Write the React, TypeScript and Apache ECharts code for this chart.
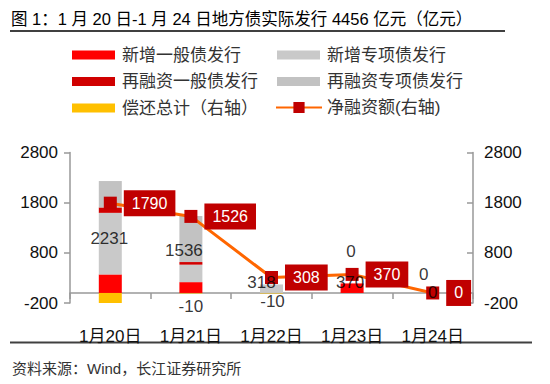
import React, { useEffect, useRef } from "react";
import * as echarts from "echarts";

const categories = ["1月20日", "1月21日", "1月22日", "1月23日", "1月24日"];
const newGeneral = [370, 216, 0, 190, 0];
const newSpecial = [1227, 348, 170, 0, 0];
const refiGeneral = [108, 52, 0, 0, 0];
const refiSpecial = [526, 920, 0, 0, 0];
const repayment = [-441, -10, -10, 0, 0];
const netFinancing = [1790, 1526, 308, 370, 0];
const totalIssuance = [2231, 1536, 318, 370, 0];
const yTicks = [-200, 800, 1800, 2800];

// label placement tweaks (style only)
const totalLabelShift = [[-1, 1], [-7, -4], [-10, -2], [-2, -1], [0, 0]];
const repayLabelShift = [[0, 0], [0, 13], [1, 8.5], [-1, -41], [-9, -18]];
const repayLabelVisible = [false, true, true, true, true];

const FONT = "'Liberation Sans', Arial, 'Noto Sans CJK SC', sans-serif";
const TITLE = "图 1：1 月 20 日-1 月 24 日地方债实际发行 4456 亿元（亿元）";
const SOURCE = "资料来源：Wind，长江证券研究所";

export default function App() {
  const ref = useRef<HTMLDivElement>(null);
  useEffect(() => {
    if (!ref.current) return;
    const chart = echarts.init(ref.current, null, { renderer: "svg" });
    const axisColor = "#999";
    const legendText = { fontSize: 17, lineHeight: 18, color: "#333", fontFamily: FONT, padding: [0, 0, 0, 2] };
    const yAxisBase = (pos: "left" | "right") => ({
      type: "value",
      position: pos,
      min: -200,
      max: 2800,
      interval: 1000,
      splitLine: { show: false },
      axisLine: { show: true, onZero: false, lineStyle: { color: axisColor, width: 1.5 } },
      axisTick: {
        show: true,
        length: 6,
        inside: pos === "right",
        customValues: yTicks,
        lineStyle: { color: axisColor, width: 1.5 },
      },
      axisLabel: {
        customValues: yTicks,
        fontSize: 17,
        color: "#111",
        fontFamily: FONT,
        margin: pos === "left" ? 12 : 11,
        formatter: (v: number) => String(v),
      },
    });
    const option: any = {
      animation: false,
      textStyle: { fontFamily: FONT },
      grid: { left: 70, right: 77, top: 152.5, bottom: 81 },
      legend: [
        {
          orient: "vertical",
          left: 72,
          top: 46,
          padding: 0,
          itemWidth: 43,
          itemHeight: 9,
          itemGap: 8.5,
          textStyle: legendText,
          selectedMode: false,
          data: [
            { name: "新增一般债发行", icon: "rect" },
            { name: "再融资一般债发行", icon: "rect" },
            { name: "偿还总计（右轴）", icon: "rect" },
          ],
        },
        {
          orient: "vertical",
          left: 277,
          top: 46,
          padding: 0,
          itemWidth: 43,
          itemHeight: 9,
          itemGap: 8.5,
          textStyle: legendText,
          selectedMode: false,
          data: [
            { name: "新增专项债发行", icon: "rect" },
            { name: "再融资专项债发行", icon: "rect" },
          ],
        },
        {
          orient: "vertical",
          left: 275,
          top: 98.5,
          padding: 0,
          itemWidth: 46,
          itemHeight: 14,
          textStyle: { ...legendText, padding: [0, 0, 0, 0] },
          selectedMode: false,
          data: ["净融资额(右轴)"],
        },
      ],
      xAxis: {
        type: "category",
        data: categories,
        axisLine: { onZero: true, lineStyle: { color: axisColor, width: 1.5 } },
        axisTick: { show: true, length: 6, lineStyle: { color: axisColor, width: 1.5 } },
        axisLabel: { interval: 0, margin: 25, fontSize: 17, color: "#111", fontFamily: FONT },
      },
      yAxis: [yAxisBase("left"), yAxisBase("right")],
      series: [
        { name: "新增一般债发行", type: "bar", stack: "a", barWidth: 23, data: newGeneral, itemStyle: { color: "#FF0000" } },
        { name: "新增专项债发行", type: "bar", stack: "a", barWidth: 23, data: newSpecial, itemStyle: { color: "#C9C9C9" } },
        { name: "再融资一般债发行", type: "bar", stack: "a", barWidth: 23, data: refiGeneral, itemStyle: { color: "#D00000" } },
        { name: "再融资专项债发行", type: "bar", stack: "a", barWidth: 23, data: refiSpecial, itemStyle: { color: "#C2C2C2" } },
        { name: "偿还总计（右轴）", type: "bar", stack: "a", barWidth: 23, data: repayment, itemStyle: { color: "#FFC000" } },
        {
          name: "净融资额(右轴)",
          type: "line",
          yAxisIndex: 1,
          data: netFinancing,
          symbol: "rect",
          symbolSize: 13,
          itemStyle: { color: "#C00000" },
          lineStyle: { color: "#FF6600", width: 3 },
          z: 5,
          label: {
            show: true,
            position: "right",
            distance: 7,
            color: "#fff",
            backgroundColor: "#C00000",
            fontSize: 16,
            fontFamily: FONT,
            padding: [5, 8],
          },
        },
        {
          name: "totalLabels",
          type: "scatter",
          symbolSize: 2,
          z: 8,
          itemStyle: { color: "rgba(0,0,0,0)" },
          data: totalIssuance.map((v, i) => ({
            value: [i, v / 2],
            label: { offset: totalLabelShift[i] },
          })),
          label: {
            show: true,
            position: "inside",
            color: "#000",
            fontSize: 17,
            fontFamily: FONT,
            formatter: (p: any) => String(totalIssuance[p.dataIndex]),
          },
        },
        {
          name: "repayLabels",
          type: "scatter",
          symbolSize: 2,
          z: 8,
          itemStyle: { color: "rgba(0,0,0,0)" },
          data: repayment.map((v, i) => ({
            value: [i, Math.max(v, -200)],
            label: { show: repayLabelVisible[i], offset: repayLabelShift[i] },
          })),
          label: {
            show: true,
            position: "inside",
            color: "#000",
            fontSize: 17,
            fontFamily: FONT,
            formatter: (p: any) => String(repayment[p.dataIndex]),
          },
        },
      ],
      graphic: [
        {
          type: "text",
          x: 11,
          y: 19,
          style: { text: TITLE, fontSize: 16.5, fill: "#000", fontFamily: FONT, verticalAlign: "middle" },
        },
        {
          type: "line",
          shape: { x1: 10, y1: 31, x2: 505, y2: 31 },
          style: { stroke: "#404040", lineWidth: 2 },
        },
        {
          type: "line",
          shape: { x1: 10, y1: 342.5, x2: 532, y2: 342.5 },
          style: { stroke: "#404040", lineWidth: 2 },
        },
        {
          type: "text",
          x: 12,
          y: 368,
          style: { text: SOURCE, fontSize: 15, fill: "#333", fontFamily: FONT, verticalAlign: "middle" },
        },
      ],
    };
    chart.setOption(option);
    return () => chart.dispose();
  }, []);
  return (
    <div
      ref={ref}
      style={{ position: "absolute", left: 0, top: 0, width: 550, height: 384, background: "#fff" }}
    />
  );
}
